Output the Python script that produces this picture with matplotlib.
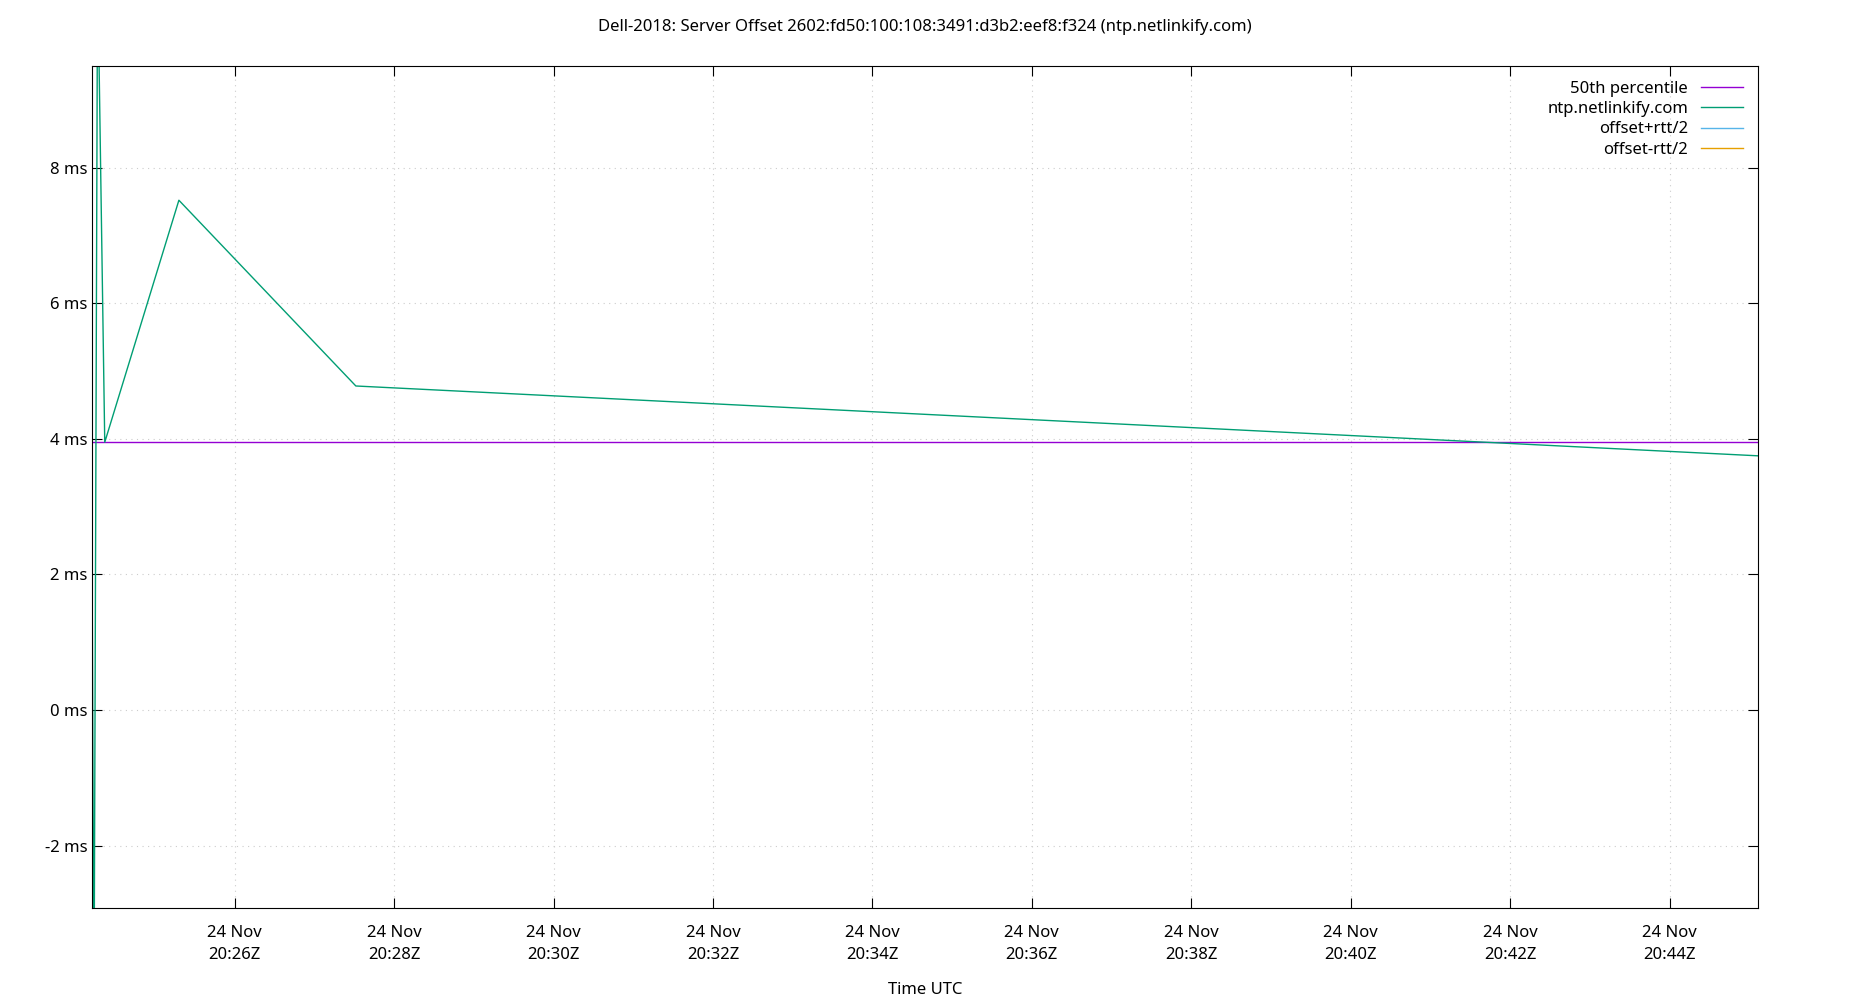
import matplotlib
matplotlib.use("Agg")
import matplotlib.pyplot as plt
import matplotlib.dates as mdates
from datetime import datetime, timedelta

BASE = datetime(2018, 11, 24, 20, 0)

# minutes after 20:00 and offset in ms
off_min = [24.21, 24.235, 24.28, 24.37, 25.30, 27.52, 45.11]
off_ms = [2.42, -4.5, 11.0, 3.95, 7.52, 4.78, 3.75]
median_ms = 3.95
x_lim = [24.21, 45.11]
tick_min = [26, 28, 30, 32, 34, 36, 38, 40, 42, 44]
y_ticks = [-2, 0, 2, 4, 6, 8]


def t(m):
    return BASE + timedelta(minutes=m)


plt.rcParams["font.family"] = ["Noto Sans", "DejaVu Sans"]
fig = plt.figure(figsize=(18.5, 10), dpi=100)
ax = fig.add_axes([92 / 1850, 1 - 908 / 1000, (1758 - 92) / 1850, (908 - 66) / 1000])

xs = [t(m) for m in off_min]
ax.plot([t(x_lim[0]), t(x_lim[1])], [median_ms, median_ms], color="#9400d3", lw=1, label="50th percentile")
ax.plot(xs, off_ms, color="#009e73", lw=1, label="ntp.netlinkify.com")
ax.plot([], [], color="#56b4e9", lw=1, label="offset+rtt/2")
ax.plot([], [], color="#e69f00", lw=1, label="offset-rtt/2")

ax.set_xlim(t(x_lim[0]), t(x_lim[1]))
ax.set_ylim(-2.92, 9.5)
ax.set_xticks([t(m) for m in tick_min])
ax.xaxis.set_major_formatter(mdates.DateFormatter("%d %b\n%H:%MZ"))
ax.set_yticks(y_ticks)
ax.set_yticklabels([f"{v} ms" for v in y_ticks])
ax.tick_params(direction="in", length=7, labelsize=12, top=True, right=True, labeltop=False, labelright=False)
ax.tick_params(axis="x", pad=12)
for lbl in ax.get_xticklabels():
    lbl.set_linespacing(1.5)
ax.grid(True, color="#cccccc", linestyle=(0, (1, 4)), lw=0.8)
ax.set_xlabel("Time UTC", fontsize=12, labelpad=14)
ax.set_title("Dell-2018: Server Offset 2602:fd50:100:108:3491:d3b2:eef8:f324 (ntp.netlinkify.com)", fontsize=12, pad=25)

leg = ax.legend(loc="upper right", frameon=False, fontsize=12, markerfirst=False,
                handlelength=2.5, labelspacing=0.25)
for txt in leg.get_texts():
    txt.set_ha("right")

fig.savefig("out.png")
